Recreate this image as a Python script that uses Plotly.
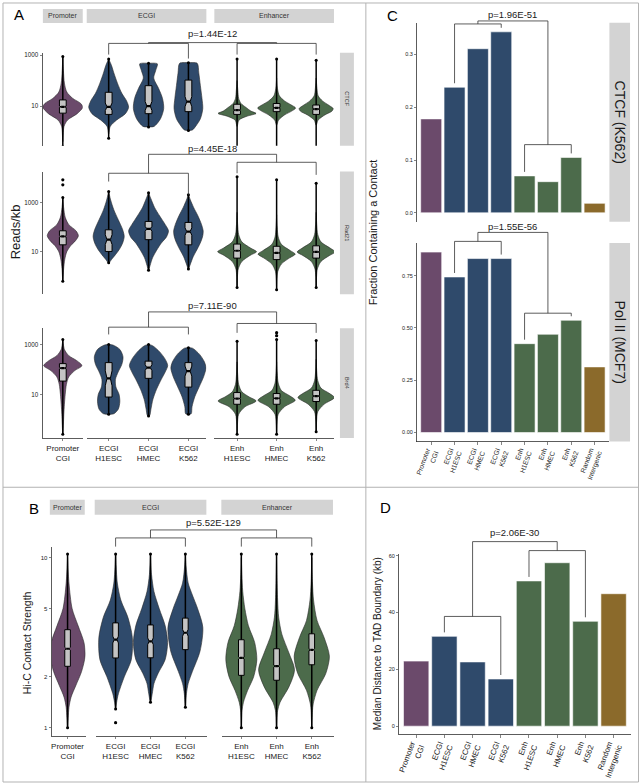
import plotly.graph_objects as go

W, H = 642, 783
FONT = "Liberation Sans, Arial, Helvetica, sans-serif"
INK = "#1a1a1a"
AXC = "#333333"
STRIP = "#d3d3d3"
BORDER = "#b3b3b3"
OUTLINE = "#2a2a2a"
BOXFILL = "#c4c4c4"

COL_PROM = "#6b4a6b"
COL_ECGI = "#2f4a6b"
COL_ENH = "#4c6b4b"
COL_RAND = "#8b6a2b"

# ---------------- categories / labels ----------------
GROUPS = ["Promoter", "ECGI", "Enhancer"]
GROUP_COLORS = [COL_PROM, COL_ECGI, COL_ENH]
GROUP_CATS = [["Promoter<br>CGI"],
              ["ECGI<br>H1ESC", "ECGI<br>HMEC", "ECGI<br>K562"],
              ["Enh<br>H1ESC", "Enh<br>HMEC", "Enh<br>K562"]]
CAT_POS = [(0, 0), (1, 0), (1, 1), (1, 2), (2, 0), (2, 1), (2, 2)]
A_FACTORS = ["CTCF", "Rad21", "Brd4"]
A_PVALS = ["p=1.44E-12", "p=4.45E-18", "p=7.11E-90"]
B_PVAL = "p=5.52E-129"

BAR_LABELS = ["Promoter<br>CGI", "ECGI<br>H1ESC", "ECGI<br>HMEC", "ECGI<br>K562",
              "Enh<br>H1ESC", "Enh<br>HMEC", "Enh<br>K562", "Random<br>Intergenic"]
BAR_COLORS = [COL_PROM, COL_ECGI, COL_ECGI, COL_ECGI, COL_ENH, COL_ENH, COL_ENH, COL_RAND]
C_FACETS = ["CTCF (K562)", "Pol II (MCF7)"]
C_PVALS = ["p=1.96E-51", "p=1.55E-56"]
D_PVAL = "p=2.06E-30"

# ---------------- bar values ----------------
CTCF_K562_FRACTION = [0.178, 0.238, 0.311, 0.343, 0.070, 0.059, 0.105, 0.018]
POL2_MCF7_FRACTION = [0.863, 0.744, 0.832, 0.832, 0.425, 0.470, 0.537, 0.314]
TAD_MEDIAN_DIST_KB = [22.9, 31.6, 22.6, 16.6, 51.1, 57.5, 36.9, 46.6]

# ---------------- violin profiles (log10 level, half width) ----------------
CTCF_LV = [
    [-0.4, 0.2, 0.45, 0.7, 0.95, 1.1, 1.3, 1.55, 1.9, 2.4, 2.95],
    [-0.1, 0.2, 0.45, 0.7, 0.95, 1.2, 1.5, 1.9, 2.3, 2.6, 2.85],
    [0.18, 0.2, 0.5, 0.9, 1.3, 1.7, 2.1, 2.4, 2.66, 2.68],
    [0.04, 0.06, 0.2, 0.5, 0.9, 1.3, 1.8, 2.3, 2.68, 2.7],
    [0.2, 0.45, 0.6, 0.71, 0.8, 0.95, 1.1, 1.3, 1.6, 2.0],
    [0.25, 0.45, 0.65, 0.8, 0.92, 1.05, 1.2, 1.4, 1.7, 2.1],
    [0.25, 0.45, 0.65, 0.8, 0.9, 1.02, 1.2, 1.4, 1.7, 2.1],
]
CTCF_HW = [
    [0, 0.03, 0.12, 0.36, 0.5, 0.45, 0.25, 0.1, 0.04, 0.015, 0],
    [0, 0.04, 0.2, 0.42, 0.5, 0.45, 0.33, 0.22, 0.13, 0.07, 0],
    [0, 0.14, 0.3, 0.38, 0.35, 0.25, 0.13, 0.18, 0.22, 0],
    [0, 0.1, 0.18, 0.3, 0.36, 0.34, 0.3, 0.26, 0.22, 0],
    [0, 0.05, 0.25, 0.48, 0.35, 0.22, 0.1, 0.04, 0.02, 0],
    [0, 0.05, 0.2, 0.38, 0.48, 0.36, 0.2, 0.07, 0.02, 0],
    [0, 0.05, 0.22, 0.4, 0.43, 0.33, 0.16, 0.05, 0.02, 0],
]
CTCF_Q1 = [0.72, 0.67, 0.70, 0.78, 0.67, 0.78, 0.67]
CTCF_MED = [0.97, 0.97, 1.00, 1.17, 0.84, 0.93, 0.88]
CTCF_Q3 = [1.24, 1.54, 1.80, 2.02, 1.07, 1.10, 1.04]
CTCF_NOTCH = [0.03, 0.15, 0.18, 0.2, 0.02, 0.02, 0.02]
CTCF_LO = [-0.6, -0.27, 0.18, 0.04, -0.6, -0.6, -0.6]
CTCF_HI = [2.95, 2.85, 2.68, 2.7, 2.85, 2.85, 2.8]
CTCF_EXTRA = [[], [3.33], [], [], [3.2, 3.3, 3.39], [3.2, 3.3, 3.39], [3.2, 3.28]]

RAD21_LV = [
    [-0.2, 0.3, 0.7, 1.0, 1.25, 1.45, 1.65, 1.85, 2.1, 2.4, 2.8, 3.2],
    [0.55, 0.7, 0.9, 1.1, 1.35, 1.62, 1.9, 2.3, 2.7, 3.1, 3.45],
    [0.25, 0.45, 0.75, 1.05, 1.35, 1.6, 1.85, 2.1, 2.45, 2.8, 3.15, 3.4],
    [0.3, 0.5, 0.8, 1.1, 1.4, 1.65, 1.85, 2.1, 2.45, 2.8, 3.1, 3.32],
    [-0.4, 0.0, 0.3, 0.6, 0.85, 1.0, 1.15, 1.4, 1.7, 2.1, 2.6],
    [-0.5, -0.1, 0.2, 0.5, 0.75, 0.9, 1.05, 1.3, 1.6, 2.0, 2.5],
    [-0.4, 0.0, 0.3, 0.6, 0.85, 0.99, 1.15, 1.4, 1.7, 2.1, 2.6],
]
RAD21_HW = [
    [0, 0.02, 0.05, 0.1, 0.2, 0.32, 0.39, 0.33, 0.15, 0.06, 0.02, 0],
    [0, 0.08, 0.18, 0.27, 0.35, 0.39, 0.35, 0.24, 0.13, 0.05, 0],
    [0, 0.04, 0.1, 0.2, 0.32, 0.45, 0.5, 0.42, 0.28, 0.15, 0.06, 0],
    [0, 0.05, 0.12, 0.22, 0.31, 0.36, 0.37, 0.33, 0.24, 0.13, 0.05, 0],
    [0, 0.01, 0.03, 0.12, 0.33, 0.49, 0.34, 0.12, 0.04, 0.015, 0],
    [0, 0.01, 0.03, 0.12, 0.33, 0.47, 0.34, 0.12, 0.04, 0.015, 0],
    [0, 0.01, 0.03, 0.12, 0.34, 0.48, 0.35, 0.12, 0.04, 0.015, 0],
]
RAD21_Q1 = [1.28, 1.01, 1.49, 1.28, 0.74, 0.68, 0.74]
RAD21_MED = [1.62, 1.49, 1.93, 1.82, 1.04, 0.95, 0.99]
RAD21_Q3 = [1.85, 1.89, 2.23, 2.19, 1.31, 1.22, 1.24]
RAD21_NOTCH = [0.03, 0.2, 0.1, 0.15, 0.02, 0.02, 0.02]
RAD21_LO = [-0.2, 0.55, 0.25, 0.3, -0.45, -0.55, -0.45]
RAD21_HI = [3.2, 3.45, 3.4, 3.32, 4.05, 3.92, 3.78]
RAD21_EXTRA = [[3.72, 3.92], [], [], [], [], [], []]

BRD4_LV = [
    [-0.6, -0.2, 0.2, 0.6, 1.0, 1.4, 1.7, 1.95, 2.15, 2.35, 2.55, 2.8, 3.2],
    [0.2, 0.22, 0.4, 0.7, 1.0, 1.3, 1.6, 1.9, 2.2, 2.5, 2.8, 2.98, 3.0],
    [0.13, 0.15, 0.4, 0.8, 1.2, 1.6, 1.9, 2.15, 2.4, 2.7, 2.95, 3.0],
    [0.2, 0.22, 0.5, 0.9, 1.3, 1.7, 2.05, 2.3, 2.6, 2.85, 2.87],
    [-0.6, -0.2, 0.2, 0.5, 0.73, 0.9, 1.1, 1.4, 1.8, 2.3],
    [-0.6, -0.2, 0.2, 0.5, 0.76, 0.95, 1.15, 1.45, 1.85, 2.3],
    [-0.5, -0.1, 0.3, 0.6, 0.87, 1.05, 1.25, 1.55, 1.9, 2.4],
]
BRD4_HW = [
    [0, 0.015, 0.025, 0.04, 0.06, 0.09, 0.15, 0.3, 0.48, 0.35, 0.15, 0.04, 0],
    [0, 0.13, 0.24, 0.28, 0.26, 0.18, 0.17, 0.24, 0.33, 0.36, 0.28, 0.1, 0],
    [0, 0.03, 0.06, 0.11, 0.2, 0.32, 0.42, 0.48, 0.42, 0.28, 0.1, 0],
    [0, 0.07, 0.09, 0.16, 0.27, 0.38, 0.44, 0.4, 0.28, 0.1, 0],
    [0, 0.01, 0.04, 0.2, 0.48, 0.3, 0.12, 0.04, 0.015, 0],
    [0, 0.01, 0.04, 0.2, 0.47, 0.32, 0.12, 0.04, 0.015, 0],
    [0, 0.01, 0.04, 0.2, 0.46, 0.32, 0.12, 0.04, 0.015, 0],
]
BRD4_Q1 = [1.53, 0.89, 1.64, 1.29, 0.60, 0.60, 0.71]
BRD4_MED = [2.05, 1.64, 2.07, 1.93, 0.83, 0.84, 0.93]
BRD4_Q3 = [2.23, 2.27, 2.33, 2.27, 1.07, 1.03, 1.16]
BRD4_NOTCH = [0.03, 0.3, 0.12, 0.2, 0.02, 0.02, 0.02]
BRD4_LO = [-0.6, 0.2, 0.13, 0.2, -0.6, -0.6, -0.5]
BRD4_HI = [3.2, 3.0, 3.0, 2.87, 3.13, 3.2, 3.16]
BRD4_EXTRA = [[], [], [], [], [], [3.35, 3.47], []]

HIC_LV = [
    [0.0, 0.06, 0.12, 0.18, 0.25, 0.33, 0.42, 0.5, 0.6, 0.7, 0.85, 1.0],
    [0.11, 0.15, 0.2, 0.3, 0.4, 0.53, 0.65, 0.75, 0.85, 0.95, 1.02],
    [0.15, 0.2, 0.26, 0.32, 0.4, 0.5, 0.6, 0.7, 0.8, 0.9, 1.02],
    [0.12, 0.2, 0.26, 0.33, 0.45, 0.59, 0.7, 0.78, 0.85, 0.95, 1.02],
    [0.0, 0.1, 0.15, 0.22, 0.3, 0.4, 0.5, 0.6, 0.7, 0.8, 0.9, 1.0],
    [0.0, 0.1, 0.15, 0.24, 0.34, 0.44, 0.55, 0.65, 0.75, 0.9, 1.0],
    [0.0, 0.1, 0.14, 0.22, 0.32, 0.42, 0.53, 0.63, 0.75, 0.85, 1.0],
]
HIC_HW = [
    [0, 0.02, 0.04, 0.1, 0.24, 0.4, 0.5, 0.47, 0.3, 0.13, 0.04, 0],
    [0, 0.03, 0.08, 0.25, 0.45, 0.48, 0.35, 0.15, 0.05, 0.015, 0],
    [0, 0.05, 0.1, 0.22, 0.42, 0.49, 0.42, 0.25, 0.1, 0.03, 0],
    [0, 0.03, 0.08, 0.2, 0.42, 0.5, 0.35, 0.2, 0.08, 0.02, 0],
    [0, 0.02, 0.06, 0.18, 0.35, 0.44, 0.38, 0.2, 0.1, 0.04, 0.015, 0],
    [0, 0.03, 0.1, 0.35, 0.51, 0.35, 0.15, 0.06, 0.03, 0.01, 0],
    [0, 0.02, 0.04, 0.15, 0.4, 0.5, 0.35, 0.15, 0.05, 0.02, 0],
]
HIC_Q1 = [0.361, 0.410, 0.411, 0.459, 0.308, 0.279, 0.370]
HIC_MED = [0.464, 0.518, 0.508, 0.558, 0.410, 0.362, 0.458]
HIC_Q3 = [0.576, 0.616, 0.604, 0.644, 0.517, 0.464, 0.552]
HIC_NOTCH = [0.008, 0.02, 0.02, 0.02, 0.006, 0.006, 0.006]
HIC_LO = [0.0, 0.11, 0.15, 0.12, 0.0, 0.0, 0.0]
HIC_HI = [1.02, 1.02, 1.02, 1.02, 1.02, 1.02, 1.02]
HIC_EXTRA = [[], [0.03], [], [], [], [], []]

A_DATA = [
    (CTCF_LV, CTCF_HW, CTCF_Q1, CTCF_MED, CTCF_Q3, CTCF_NOTCH, CTCF_LO, CTCF_HI, CTCF_EXTRA),
    (RAD21_LV, RAD21_HW, RAD21_Q1, RAD21_MED, RAD21_Q3, RAD21_NOTCH, RAD21_LO, RAD21_HI, RAD21_EXTRA),
    (BRD4_LV, BRD4_HW, BRD4_Q1, BRD4_MED, BRD4_Q3, BRD4_NOTCH, BRD4_LO, BRD4_HI, BRD4_EXTRA),
]
B_DATA = (HIC_LV, HIC_HW, HIC_Q1, HIC_MED, HIC_Q3, HIC_NOTCH, HIC_LO, HIC_HI, HIC_EXTRA)

# ---------------- layout geometry (pixels) ----------------
A_COLS_PX = [(41, 81), (85, 205), (213, 333)]
A_COLS_RANGE = [(-0.5, 0.5), (-0.55, 2.45), (-0.575, 2.45)]
A_ROWS_PX = [(51, 144), (170, 293), (327, 437)]
A_ROWS_RANGE = [(-0.557, 3.09), (-0.729, 4.257), (-0.748, 3.652)]
A_STRIP_Y = (7, 21)
A_RSTRIP_X = (339, 353)
# p-label y, main bracket y, ECGI bracket y, its legs, Enh bracket y, its legs
A_BRACKETS = [
    (31.7, 40.7, 41.5, 52.7, 56.7, 41.5, 52.7, 52.7),
    (146.7, 152.7, 171.7, 180.0, 193.3, 160.7, 171.7, 173.3),
    (304.0, 310.7, 326.0, 333.3, 333.3, 322.3, 331.7, 331.7),
]

B_COLS_PX = [(50, 84), (94, 206), (221, 333)]
B_COLS_RANGE = [(-0.45, 0.52), (-0.57, 2.63), (-0.54, 2.63)]
B_ROW_PX = (546, 736)
B_ROW_RANGE = (-0.049, 1.064)
B_STRIP_PX = [(48, 83), (93, 205), (220, 332)]
B_STRIP_Y = (499, 514)
B_BRACKET = (522.0, 529.3, 537.3, 546.0, 546.0, 537.3, 546.0, 546.0)

C_X_PX = (416.5, 608.5)
C_ROWS_PX = [(20.9, 220.4), (241.7, 440.7)]
C_ROWS_RANGE = [(-0.0171, 0.360), (-0.0432, 0.906)]
C_STRIP_X = (609.3, 630)
C_BRACKETS = [(12.7, 19.0, 22.0, 143.0), (225.0, 231.0, 240.0, 312.0)]

D_X_PX = (398.5, 630.5)
D_Y_PX = (553.9, 734.3)
D_Y_RANGE = (-2.9, 60.4)
D_BRACKET = (532.0, 541.0, 616.0, 550.0)

fig = go.Figure()
layout_axes = {}
shapes = []
annotations = []
_n = [0]


def px_x(p):
    return p / W


def px_y(p):
    return 1 - p / H


def seg(x0, y0, x1, y1, color=AXC, width=0.8):
    shapes.append(dict(type="line", xref="paper", yref="paper",
                       x0=px_x(x0), y0=px_y(y0), x1=px_x(x1), y1=px_y(y1),
                       line=dict(color=color, width=width)))


def rect(x0, y0, x1, y1, fill=STRIP, line=None):
    shapes.append(dict(type="rect", xref="paper", yref="paper",
                       x0=px_x(x0), y0=px_y(y0), x1=px_x(x1), y1=px_y(y1),
                       fillcolor=fill, line=line if line else dict(width=0), layer="below"))


def label(x, y, text, size, angle=0, color=INK, xanchor="center", yanchor="middle"):
    annotations.append(dict(x=px_x(x), y=px_y(y), xref="paper", yref="paper", text=text,
                            showarrow=False, textangle=angle, xanchor=xanchor, yanchor=yanchor,
                            font=dict(size=size, color=color, family=FONT)))


def make_axes(xpx, xr, ypx, yr, ylog=False, xshow=False, yshow=False, xtickvals=None,
              xticktext=None, xtickfont=8, xtickangle=0, ytickvals=None, yticktext=None,
              ytickfont=6):
    _n[0] += 1
    s = "" if _n[0] == 1 else str(_n[0])
    xa = dict(domain=[px_x(xpx[0]), px_x(xpx[1])], range=list(xr), anchor="y" + s,
              showgrid=False, zeroline=False, fixedrange=True)
    if xshow:
        xa.update(showline=True, linecolor=AXC, linewidth=0.8, ticks="outside", ticklen=2.5,
                  tickwidth=0.6, tickcolor=AXC, tickmode="array", tickvals=xtickvals,
                  ticktext=xticktext, tickangle=xtickangle, showticklabels=True,
                  tickfont=dict(size=xtickfont, color=INK, family=FONT))
    else:
        xa.update(showline=False, ticks="", showticklabels=False)
    ya = dict(domain=[px_y(ypx[1]), px_y(ypx[0])], range=list(yr), anchor="x" + s,
              type="log" if ylog else "linear", showgrid=False, zeroline=False, fixedrange=True)
    if yshow:
        ya.update(showline=True, linecolor=AXC, linewidth=0.8, ticks="outside", ticklen=2.5,
                  tickwidth=0.6, tickcolor=AXC, tickmode="array", tickvals=ytickvals,
                  ticktext=yticktext, showticklabels=True,
                  tickfont=dict(size=ytickfont, color=INK, family=FONT))
    else:
        ya.update(showline=False, ticks="", showticklabels=False)
    layout_axes["xaxis" + s] = xa
    layout_axes["yaxis" + s] = ya
    return dict(x="x" + s, y="y" + s, xpx=xpx, xr=xr, ypx=ypx, yr=yr)


def xmap(ax, v):
    (p0, p1), (r0, r1) = ax["xpx"], ax["xr"]
    return p0 + (v - r0) / (r1 - r0) * (p1 - p0)


def ymap(ax, v):
    (q0, q1), (r0, r1) = ax["ypx"], ax["yr"]
    return q1 - (v - r0) / (r1 - r0) * (q1 - q0)


def add_violin(ax, c, lv, hw, color):
    xs = [c + h for h in hw] + [c - h for h in hw[::-1]]
    ys = [10 ** v for v in lv + lv[::-1]]
    fig.add_trace(go.Scatter(x=xs, y=ys, xaxis=ax["x"], yaxis=ax["y"], mode="lines",
                             fill="toself", fillcolor=color,
                             line=dict(color=OUTLINE, width=0.6, shape="spline", smoothing=0.8),
                             hoverinfo="skip", showlegend=False))


def add_points(ax, c, lo, hi, extra):
    fig.add_trace(go.Scatter(x=[c, c], y=[10 ** lo, 10 ** hi], xaxis=ax["x"], yaxis=ax["y"],
                             mode="lines+markers", line=dict(color="black", width=1.5),
                             marker=dict(size=3, color="black"), hoverinfo="skip",
                             showlegend=False))
    if extra:
        fig.add_trace(go.Scatter(x=[c] * len(extra), y=[10 ** e for e in extra], xaxis=ax["x"],
                                 yaxis=ax["y"], mode="markers", marker=dict(size=3.2, color="black"),
                                 cliponaxis=False, hoverinfo="skip", showlegend=False))


def add_box(ax, c, q1, med, q3, notch, hwid):
    lo_n = max(q1, med - notch)
    hi_n = min(q3, med + notch)
    xs = [c - hwid, c + hwid, c + hwid, c + hwid * 0.5, c + hwid, c + hwid,
          c - hwid, c - hwid, c - hwid * 0.5, c - hwid, c - hwid]
    ys = [q1, q1, lo_n, med, hi_n, q3, q3, hi_n, med, lo_n, q1]
    fig.add_trace(go.Scatter(x=xs, y=[10 ** v for v in ys], xaxis=ax["x"], yaxis=ax["y"],
                             mode="lines", fill="toself", fillcolor=BOXFILL,
                             line=dict(color="black", width=1.0), hoverinfo="skip",
                             showlegend=False))
    fig.add_trace(go.Scatter(x=[c - hwid * 0.5, c + hwid * 0.5], y=[10 ** med] * 2,
                             xaxis=ax["x"], yaxis=ax["y"], mode="lines",
                             line=dict(color="black", width=2.2), hoverinfo="skip",
                             showlegend=False))


def draw_violin_row(axes, data, hwid):
    lvs, hws, q1s, meds, q3s, notches, los, his, extras = data
    for i, (g, p) in enumerate(CAT_POS):
        add_violin(axes[g], p, lvs[i], hws[i], GROUP_COLORS[g])
    for i, (g, p) in enumerate(CAT_POS):
        add_points(axes[g], p, los[i], his[i], extras[i])
    for i, (g, p) in enumerate(CAT_POS):
        add_box(axes[g], p, q1s[i], meds[i], q3s[i], notches[i], hwid)


def bracket(xl, xr, ytop, ybl, ybr):
    seg(xl, ytop, xr, ytop)
    seg(xl, ytop, xl, ybl)
    seg(xr, ytop, xr, ybr)


def group_brackets(axes, br, ptext):
    p_y, main_y, e_y, e_l, e_r, n_y, n_l, n_r = br
    ex0, ex1 = xmap(axes[1], 0), xmap(axes[1], 2)
    nx0, nx1 = xmap(axes[2], 0), xmap(axes[2], 2)
    bracket(ex0, ex1, e_y, e_l, e_r)
    bracket(nx0, nx1, n_y, n_l, n_r)
    mx0, mx1 = (ex0 + ex1) / 2, (nx0 + nx1) / 2
    bracket(mx0, mx1, main_y, e_y, n_y)
    label((mx0 + mx1) / 2, p_y, ptext, 9.5)


# ---------------- Panel A ----------------
for r in range(3):
    axes = []
    for g in range(3):
        last = r == 2
        axes.append(make_axes(A_COLS_PX[g], A_COLS_RANGE[g], A_ROWS_PX[r], A_ROWS_RANGE[r],
                              ylog=True, xshow=last, yshow=(g == 0),
                              xtickvals=list(range(len(GROUP_CATS[g]))),
                              xticktext=GROUP_CATS[g], xtickfont=8,
                              ytickvals=[10, 1000], yticktext=["10", "1000"], ytickfont=6.3))
    draw_violin_row(axes, A_DATA[r], 0.085)
    group_brackets(axes, A_BRACKETS[r], A_PVALS[r])
    rect(A_RSTRIP_X[0], A_ROWS_PX[r][0], A_RSTRIP_X[1], A_ROWS_PX[r][1])
    label((A_RSTRIP_X[0] + A_RSTRIP_X[1]) / 2, (A_ROWS_PX[r][0] + A_ROWS_PX[r][1]) / 2,
          A_FACTORS[r], 5.5, angle=90, color="#333333")
for g in range(3):
    rect(A_COLS_PX[g][0], A_STRIP_Y[0], A_COLS_PX[g][1], A_STRIP_Y[1])
    label((A_COLS_PX[g][0] + A_COLS_PX[g][1]) / 2, (A_STRIP_Y[0] + A_STRIP_Y[1]) / 2,
          GROUPS[g], 7, color="#333333")
label(17, 13, "A", 15, color="black")
label(13, 230, "Reads/kb", 13, angle=-90)

# ---------------- Panel B ----------------
b_axes = []
for g in range(3):
    b_axes.append(make_axes(B_COLS_PX[g], B_COLS_RANGE[g], B_ROW_PX, B_ROW_RANGE, ylog=True,
                            xshow=True, yshow=(g == 0),
                            xtickvals=list(range(len(GROUP_CATS[g]))), xticktext=GROUP_CATS[g],
                            xtickfont=8, ytickvals=[1, 2, 5, 10],
                            yticktext=["1", "2", "5", "10"], ytickfont=6))
draw_violin_row(b_axes, B_DATA, 0.08)
group_brackets(b_axes, B_BRACKET, B_PVAL)
for g in range(3):
    rect(B_STRIP_PX[g][0], B_STRIP_Y[0], B_STRIP_PX[g][1], B_STRIP_Y[1])
    label((B_STRIP_PX[g][0] + B_STRIP_PX[g][1]) / 2, (B_STRIP_Y[0] + B_STRIP_Y[1]) / 2,
          GROUPS[g], 7, color="#333333")
label(32, 508, "B", 15, color="black")
label(25, 642, "Hi-C Contact Strength", 10.5, angle=-90)

# ---------------- Panel C ----------------
C_VALUES = [CTCF_K562_FRACTION, POL2_MCF7_FRACTION]
C_TICKS = [([0, 0.1, 0.2, 0.3], ["0.0", "0.1", "0.2", "0.3"]),
           ([0, 0.25, 0.5, 0.75], ["0.00", "0.25", "0.50", "0.75"])]
for r in range(2):
    ax = make_axes(C_X_PX, (-0.6, 7.6), C_ROWS_PX[r], C_ROWS_RANGE[r], xshow=(r == 1),
                   yshow=True, xtickvals=list(range(8)), xticktext=BAR_LABELS, xtickfont=6.8,
                   xtickangle=-70, ytickvals=C_TICKS[r][0], yticktext=C_TICKS[r][1],
                   ytickfont=5.5)
    vals = C_VALUES[r]
    fig.add_trace(go.Bar(x=list(range(8)), y=vals, xaxis=ax["x"], yaxis=ax["y"], width=0.9,
                         marker=dict(color=BAR_COLORS, line=dict(color="white", width=0.6)),
                         hoverinfo="skip", showlegend=False))
    p_y, main_y, e_y, n_y = C_BRACKETS[r]
    gap = 4
    bracket(xmap(ax, 1), xmap(ax, 3), e_y, ymap(ax, vals[1]) - gap, ymap(ax, vals[3]) - gap)
    bracket(xmap(ax, 4), xmap(ax, 6), n_y, ymap(ax, vals[4]) - gap, ymap(ax, vals[6]) - gap)
    bracket(xmap(ax, 2), xmap(ax, 5), main_y, e_y, n_y)
    label((xmap(ax, 2) + xmap(ax, 5)) / 2, p_y, C_PVALS[r], 9.5)
    rect(C_STRIP_X[0], C_ROWS_PX[r][0], C_STRIP_X[1], C_ROWS_PX[r][1])
    label((C_STRIP_X[0] + C_STRIP_X[1]) / 2, (C_ROWS_PX[r][0] + C_ROWS_PX[r][1]) / 2,
          C_FACETS[r], 14, angle=90, color="#1a1a1a")
label(392, 14, "C", 15, color="black")
label(373, 231, "Fraction Containing a Contact", 11, angle=-90)

# ---------------- Panel D ----------------
ax = make_axes(D_X_PX, (-0.6, 7.6), D_Y_PX, D_Y_RANGE, xshow=True, yshow=True,
               xtickvals=list(range(8)), xticktext=BAR_LABELS, xtickfont=7.8, xtickangle=-70,
               ytickvals=[0, 20, 40, 60], yticktext=["0", "20", "40", "60"], ytickfont=5.5)
vals = TAD_MEDIAN_DIST_KB
fig.add_trace(go.Bar(x=list(range(8)), y=vals, xaxis=ax["x"], yaxis=ax["y"], width=0.9,
                     marker=dict(color=BAR_COLORS, line=dict(color="white", width=0.6)),
                     hoverinfo="skip", showlegend=False))
p_y, main_y, e_y, n_y = D_BRACKET
bracket(xmap(ax, 1), xmap(ax, 3), e_y, ymap(ax, vals[1]) - 4, ymap(ax, vals[3]) - 4)
bracket(xmap(ax, 4), xmap(ax, 6), n_y, ymap(ax, vals[4]) - 4, ymap(ax, vals[6]) - 4)
bracket(xmap(ax, 2), xmap(ax, 5), main_y, e_y, n_y)
label((xmap(ax, 2) + xmap(ax, 5)) / 2, p_y, D_PVAL, 9.5)
label(385, 507, "D", 15, color="black")
label(377, 643, "Median Distance to TAD Boundary (kb)", 10, angle=-90)

# ---------------- panel borders ----------------
shapes.append(dict(type="rect", xref="paper", yref="paper", x0=px_x(1), y0=px_y(1),
                   x1=px_x(638.5), y1=px_y(782), fillcolor="rgba(0,0,0,0)",
                   line=dict(color=BORDER, width=1)))
seg(365, 1, 365, 782, color=BORDER, width=1)
seg(1, 486.5, 638.5, 486.5, color=BORDER, width=1)

fig.update_layout(width=W, height=H, margin=dict(l=0, r=0, t=0, b=0),
                  paper_bgcolor="white", plot_bgcolor="white", showlegend=False,
                  hovermode=False,
                  font=dict(family=FONT, color=INK), shapes=shapes, annotations=annotations,
                  **layout_axes)
fig.write_html("out.html", config={"displayModeBar": False, "staticPlot": True},
               post_script="document.body.style.margin='0';document.body.style.padding='0';")
